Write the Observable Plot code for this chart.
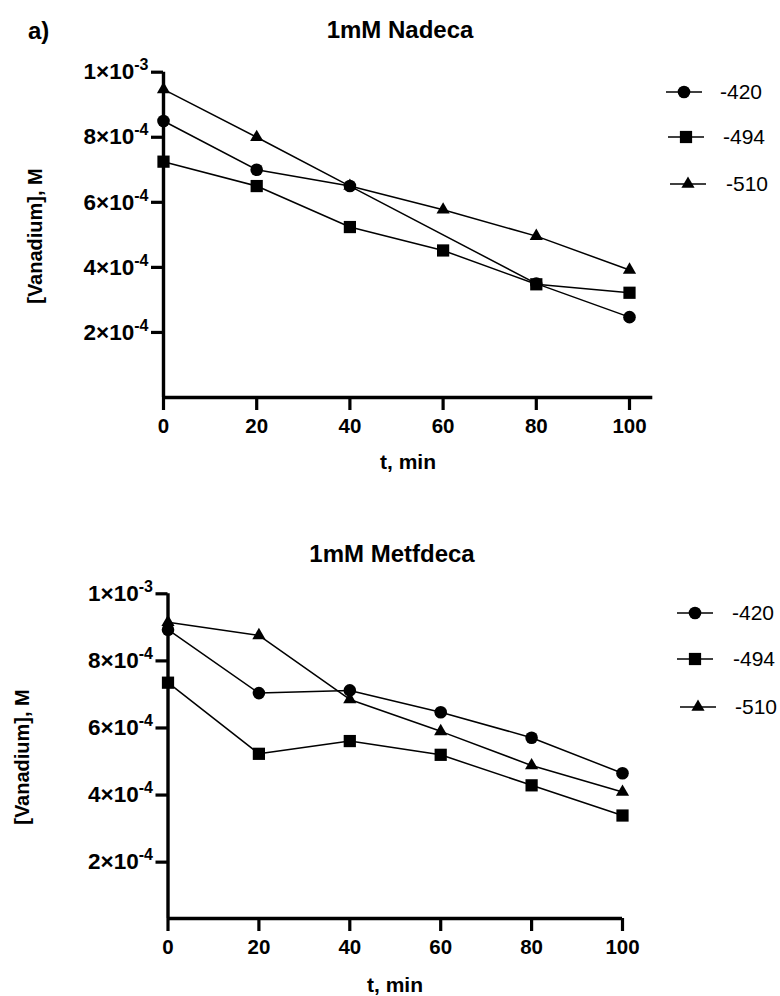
<!DOCTYPE html>
<html>
<head>
<meta charset="utf-8">
<script src="https://cdn.jsdelivr.net/npm/d3@7"></script>
<script src="https://cdn.jsdelivr.net/npm/@observablehq/plot@0.6"></script>
<style>
  html, body { margin: 0; padding: 0; background: #fff; }
  #page { position: relative; width: 780px; height: 996px; overflow: hidden; background: #fff; }
  #page > svg, #page > figure { position: absolute; left: 0; margin: 0; }
  #overlay { position: absolute; left: 0; top: 0; pointer-events: none; }
</style>
</head>
<body>
<div id="page"></div>
<script>
// ---------- data ----------
const times = [0, 20, 40, 60, 80, 100];
const seriesNames = ["-420", "-494", "-510"];
const seriesSymbols = ["circle", "square", "triangle"];

// 1mM Nadeca (null = no measurement)
const nadeca420 = [8.50e-4, 7.00e-4, 6.50e-4, null, 3.50e-4, 2.47e-4];
const nadeca494 = [7.25e-4, 6.50e-4, 5.24e-4, 4.52e-4, 3.48e-4, 3.22e-4];
const nadeca510 = [9.47e-4, 8.00e-4, 6.50e-4, 5.77e-4, 4.96e-4, 3.92e-4];

// 1mM Metfdeca
const metf420 = [8.93e-4, 7.04e-4, 7.12e-4, 6.47e-4, 5.71e-4, 4.65e-4];
const metf494 = [7.35e-4, 5.23e-4, 5.61e-4, 5.20e-4, 4.29e-4, 3.39e-4];
const metf510 = [9.15e-4, 8.76e-4, 6.85e-4, 5.90e-4, 4.88e-4, 4.09e-4];

const xTicks = [0, 20, 40, 60, 80, 100];
const yTicks = [2e-4, 4e-4, 6e-4, 8e-4, 1e-3];
const yTickBase = ["2×10", "4×10", "6×10", "8×10", "1×10"];
const yTickExp = ["-4", "-4", "-4", "-4", "-3"];

const titles = ["1mM Nadeca", "1mM Metfdeca"];
const panelTag = "a)";
const xLabel = "t, min";
const yLabel = "[Vanadium], M";

// ---------- helpers ----------
const FONT = "'Liberation Sans', Arial, Helvetica, sans-serif";

function toRows(arrs) {
  const rows = [];
  arrs.forEach((arr, s) => arr.forEach((v, i) => {
    if (v != null) rows.push({t: times[i], v, s: seriesNames[s]});
  }));
  return rows;
}

const symR = {circle: 6.3, square: 6.9, triangle: 4.9};

function panel(rows, opt) {
  const marks = [
    Plot.ruleX([0], {y1: opt.ymin, y2: 1e-3, strokeWidth: 3.4, stroke: "black"}),
    Plot.ruleY([opt.ymin], {x1: 0, x2: opt.xmax, strokeWidth: 3.4, stroke: "black"}),
    Plot.axisY({
      ticks: yTicks, tickSize: 12, tickPadding: 3, strokeWidth: 3.2,
      tickFormat: d => { const i = yTicks.findIndex(t => Math.abs(t - d) < 1e-9); return yTickBase[i] + "^" + yTickExp[i]; },
      label: null
    }),
    Plot.axisX({
      ticks: xTicks, tickSize: 13, tickPadding: 8, strokeWidth: 3.2,
      label: null, y: opt.ymin
    })
  ];
  seriesNames.forEach((name, k) => {
    marks.push(Plot.line(rows.filter(d => d.s === name), {x: "t", y: "v", stroke: "black", strokeWidth: 1.5}));
  });
  seriesNames.forEach((name, k) => {
    const sym = seriesSymbols[k];
    marks.push(Plot.dot(rows.filter(d => d.s === name), {x: "t", y: "v", symbol: sym, r: symR[sym], fill: "black", stroke: "none"}));
  });
  const svg = Plot.plot({
    width: 780, height: opt.height,
    marginLeft: opt.ml, marginRight: opt.mr, marginTop: opt.mt, marginBottom: opt.mb,
    x: {domain: [0, opt.xmax]},
    y: {domain: [opt.ymin, 1e-3]},
    style: {fontFamily: FONT, color: "black", background: "transparent", overflow: "visible"},
    marks
  });
  const s = d3.select(svg);
  s.selectAll('g[aria-label="y-axis tick label"] text').style("font-size", "22.5px").style("font-weight", "bold");
  s.selectAll('g[aria-label="x-axis tick label"] text').style("font-size", "20.5px").style("font-weight", "bold");
  // superscript exponents
  s.selectAll('g[aria-label="y-axis tick label"] text').each(function() {
    const str = this.textContent;
    if (!str.includes("^")) return;
    const [base, exp] = str.split("^");
    const t = d3.select(this);
    t.text(null);
    t.append("tspan").text(base);
    t.append("tspan").style("font-size", "16px").attr("dy", "-9").text(exp);
  });
  svg.style.top = opt.top + "px";
  return svg;
}

const page = document.getElementById("page");

page.appendChild(panel(toRows([nadeca420, nadeca494, nadeca510]), {
  top: 0, height: 480, ml: 163, mr: 127.7, mt: 71.7, mb: 83, xmax: 105, ymin: 0
}));
page.appendChild(panel(toRows([metf420, metf494, metf510]), {
  top: 500, height: 496, ml: 167.5, mr: 158, mt: 93.3, mb: 78, xmax: 100, ymin: 0.32e-4
}));

// ---------- overlay: titles, labels, legends ----------
const ov = d3.select(page).append("svg")
  .attr("id", "overlay").attr("width", 780).attr("height", 996)
  .style("font-family", FONT);

ov.append("text").attr("x", 28).attr("y", 39).attr("font-size", 24).attr("font-weight", "bold").text(panelTag);

const titlePos = [{x: 400, y: 38}, {x: 392, y: 562}];
const xLabPos = [{x: 408, y: 469}, {x: 395, y: 992}];
const yLabPos = [{x: 35, y: 236}, {x: 22, y: 757}];

titles.forEach((t, i) => {
  ov.append("text").attr("x", titlePos[i].x).attr("y", titlePos[i].y)
    .attr("text-anchor", "middle").attr("font-size", 24).attr("font-weight", "bold").text(t);
  ov.append("text").attr("x", xLabPos[i].x).attr("y", xLabPos[i].y)
    .attr("text-anchor", "middle").attr("font-size", 21).attr("font-weight", "bold").text(xLabel);
  ov.append("text")
    .attr("transform", `translate(${yLabPos[i].x},${yLabPos[i].y}) rotate(-90)`)
    .attr("text-anchor", "middle").attr("dominant-baseline", "central")
    .attr("font-size", 20).attr("font-weight", "bold").text(yLabel);
});

const legendRows = [
  [{y: 92, x0: 666, x1: 702, tx: 720}, {y: 137, x0: 668, x1: 704, tx: 723}, {y: 184, x0: 670, x1: 706, tx: 726}],
  [{y: 613, x0: 677, x1: 713, tx: 732}, {y: 659, x0: 677, x1: 713, tx: 733}, {y: 707, x0: 680, x1: 716, tx: 735}]
];
const d3Sym = {circle: d3.symbolCircle, square: d3.symbolSquare, triangle: d3.symbolTriangle};
legendRows.forEach(rows => rows.forEach((r, k) => {
  const sym = seriesSymbols[k];
  ov.append("line").attr("x1", r.x0).attr("x2", r.x1).attr("y1", r.y).attr("y2", r.y)
    .attr("stroke", "black").attr("stroke-width", 1.6);
  ov.append("path").attr("transform", `translate(${(r.x0 + r.x1) / 2},${r.y})`)
    .attr("d", d3.symbol(d3Sym[sym], Math.PI * symR[sym] * symR[sym])()).attr("fill", "black");
  ov.append("text").attr("x", r.tx).attr("y", r.y + 7).attr("font-size", 21).text(seriesNames[k]);
}));
</script>
</body>
</html>
